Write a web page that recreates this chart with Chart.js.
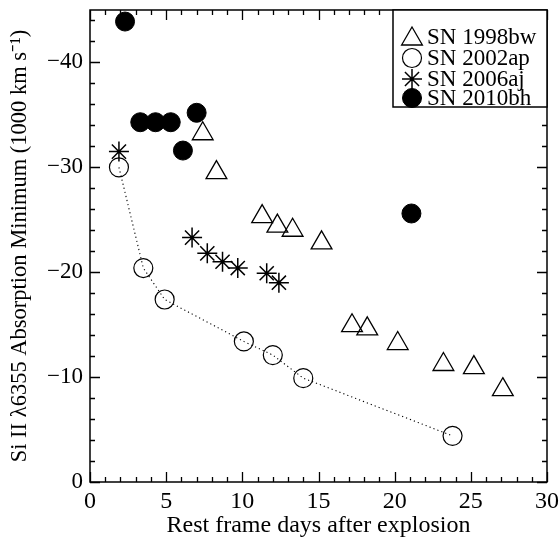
<!DOCTYPE html>
<html>
<head>
<meta charset="utf-8">
<script src="https://cdn.jsdelivr.net/npm/chart.js@4/dist/chart.umd.min.js"></script>
<style>
html,body{margin:0;padding:0;background:#fff;}
#wrap{width:560px;height:540px;position:relative;}
</style>
</head>
<body>
<div id="wrap"><canvas id="c" width="560" height="540"></canvas></div>
<script>
// ---- Data ----
const seriesNames = ['SN 1998bw', 'SN 2002ap', 'SN 2006aj', 'SN 2010bh'];

const days1998bw = [7.4, 8.3, 11.3, 12.3, 13.3, 15.2, 17.2, 18.2, 20.2, 23.2, 25.2, 27.1];
const vel1998bw  = [-33.2, -29.5, -25.3, -24.4, -24.0, -22.8, -14.9, -14.6, -13.2, -11.2, -10.9, -8.8];

const days2002ap = [1.9, 3.5, 4.9, 10.1, 12.0, 14.0, 23.8];
const vel2002ap  = [-30.0, -20.4, -17.4, -13.4, -12.1, -9.9, -4.4];

const days2006aj = [1.9, 6.7, 7.7, 8.7, 9.7, 11.6, 12.4];
const vel2006aj  = [-31.5, -23.3, -21.8, -21.0, -20.4, -19.9, -19.0];

const days2010bh = [2.3, 3.3, 4.3, 5.3, 6.1, 7.0, 21.1];
const vel2010bh  = [-43.9, -34.3, -34.3, -34.3, -31.6, -35.2, -25.6];

const xTickValues = [0, 5, 10, 15, 20, 25, 30];
const yTickValues = [-40, -30, -20, -10, 0];

const xTitle = 'Rest frame days after explosion';
const yTitle = 'Si II \u03bb6355 Absorption Minimum (1000 km s\u207b\u00b9)';

function pts(xs, ys){ return xs.map((x,i)=>({x:x, y:ys[i]})); }

const FONT = "'Liberation Serif', 'Times New Roman', serif";
const INK = '#000';

const datasets = [
  {label: seriesNames[0], data: pts(days1998bw, vel1998bw), pointStyle:'triangle', pointRadius:12,
   backgroundColor:'rgba(0,0,0,0)', borderColor:INK, borderWidth:1.3, showLine:false},
  {label: seriesNames[1], data: pts(days2002ap, vel2002ap), pointStyle:'circle', pointRadius:9.5,
   backgroundColor:'rgba(0,0,0,0)', borderColor:INK, borderWidth:1.1, showLine:true,
   borderDash:[1.2,3], pointBorderWidth:1.2},
  {label: seriesNames[2], data: pts(days2006aj, vel2006aj), pointStyle:'star', pointRadius:10,
   backgroundColor:'rgba(0,0,0,0)', borderColor:INK, borderWidth:1.5, showLine:false},
  {label: seriesNames[3], data: pts(days2010bh, vel2010bh), pointStyle:'circle', pointRadius:9.5,
   backgroundColor:INK, borderColor:INK, borderWidth:1, showLine:false}
];

// frame + inward ticks on all four sides
const framePlugin = {
  id:'frame',
  afterDatasetsDraw(chart){
    const ctx = chart.ctx, a = chart.chartArea;
    const xs = chart.scales.x, ys = chart.scales.y;
    ctx.save();
    ctx.strokeStyle = INK; ctx.lineWidth = 1.3;
    ctx.beginPath();
    for (let v = xs.min; v <= xs.max + 1e-9; v += 1) {
      const px = Math.round(xs.getPixelForValue(v)) + 0.5;
      const L = (v % 5 === 0) ? 10 : 5;
      ctx.moveTo(px, a.bottom); ctx.lineTo(px, a.bottom - L);
      ctx.moveTo(px, a.top); ctx.lineTo(px, a.top + L);
    }
    for (let v = 0; v >= ys.min - 1e-9; v -= 2) {
      const py = Math.round(ys.getPixelForValue(v)) + 0.5;
      const L = (v % 10 === 0) ? 10 : 5;
      ctx.moveTo(a.left, py); ctx.lineTo(a.left + L, py);
      ctx.moveTo(a.right, py); ctx.lineTo(a.right - L, py);
    }
    ctx.stroke();
    ctx.lineWidth = 1.5;
    ctx.strokeRect(a.left, a.top, a.right - a.left, a.bottom - a.top);
    ctx.restore();
  }
};

// legend box in the upper right
const legendPlugin = {
  id:'boxLegend',
  afterDraw(chart){
    const ctx = chart.ctx, a = chart.chartArea;
    const left = 393, top = a.top, right = a.right, h = 97;
    ctx.save();
    ctx.fillStyle = '#fff';
    ctx.fillRect(left, top, right-left, h);
    ctx.strokeStyle = INK; ctx.lineWidth = 1.5;
    ctx.strokeRect(left, top, right-left, h);
    const rowY = [top + 27, top + 48, top + 69, top + 88];
    chart.data.datasets.forEach((ds, i) => {
      const y = rowY[i];
      ctx.strokeStyle = ds.borderColor;
      ctx.fillStyle = ds.backgroundColor;
      ctx.lineWidth = ds.pointBorderWidth || ds.borderWidth;
      ctx.setLineDash([]);
      Chart.helpers.drawPoint(ctx, {pointStyle: ds.pointStyle, radius: ds.pointRadius,
        borderWidth: ds.pointBorderWidth || ds.borderWidth, rotation:0}, 412, y + (ds.pointStyle==='triangle'?2:0));
      ctx.fillStyle = INK;
      ctx.font = '23px ' + FONT;
      ctx.textAlign = 'left'; ctx.textBaseline = 'middle';
      ctx.fillText(ds.label, 427, y + 1);
    });
    ctx.restore();
  }
};

function zeroPad(s){ s.paddingTop = 0; s.paddingBottom = 0; s.paddingLeft = 0; s.paddingRight = 0; }

new Chart(document.getElementById('c'), {
  type:'scatter',
  data:{datasets},
  plugins:[framePlugin, legendPlugin],
  options:{
    responsive:false, animation:false, devicePixelRatio:1,
    layout:{autoPadding:false, padding:{left:0, top:10, right:13, bottom:0}},
    plugins:{legend:{display:false}, tooltip:{enabled:false}},
    elements:{line:{tension:0}},
    scales:{
      x:{
        type:'linear', min:0, max:30,
        afterBuildTicks(s){ s.ticks = xTickValues.map(v=>({value:v})); },
        afterFit(s){ s.height = 58; zeroPad(s); },
        grid:{display:false, drawTicks:false},
        border:{display:false},
        ticks:{color:INK, font:{family:FONT, size:24}, padding:5, maxRotation:0, autoSkip:false},
        title:{display:true, text:xTitle, color:INK, font:{family:FONT, size:24}, padding:{top:0, bottom:0}}
      },
      y:{
        type:'linear', min:-45, max:0, reverse:true,
        afterBuildTicks(s){ s.ticks = yTickValues.map(v=>({value:v})); },
        afterFit(s){ s.width = 90; zeroPad(s); },
        grid:{display:false, drawTicks:false},
        border:{display:false},
        ticks:{color:INK, font:{family:FONT, size:23, lineHeight:0.2}, padding:7, autoSkip:false,
          callback:(v)=> (v < 0 ? '\u2212' + Math.abs(v) : String(v))},
        title:{display:true, text:yTitle, color:INK, font:{family:FONT, size:22.5}, padding:{top:7, bottom:0}}
      }
    }
  }
});
</script>
</body>
</html>
